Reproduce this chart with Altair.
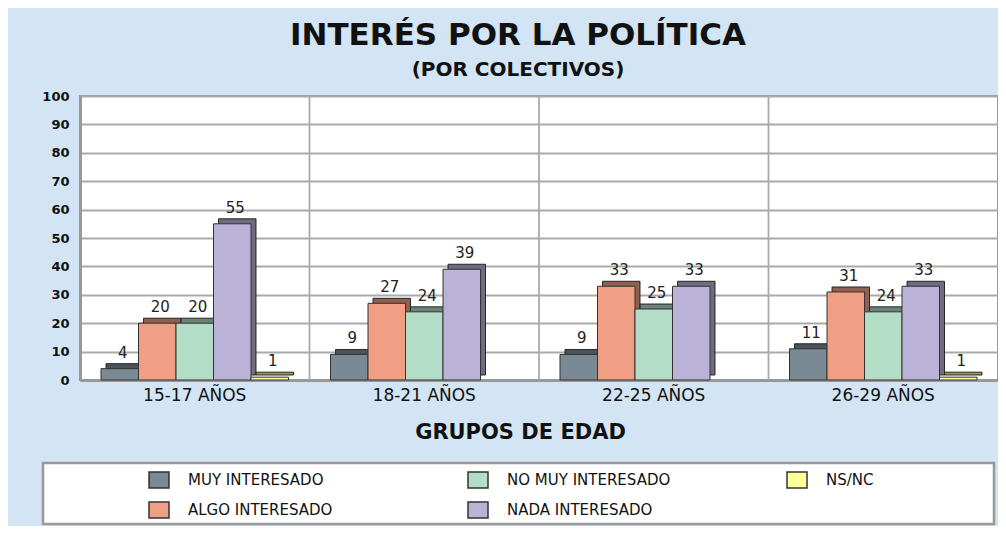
import altair as alt
import pandas as pd

groups = ["15-17 AÑOS", "18-21 AÑOS", "22-25 AÑOS", "26-29 AÑOS"]
series_order = ["MUY INTERESADO", "ALGO INTERESADO", "NO MUY INTERESADO",
                "NADA INTERESADO", "NS/NC"]
legend_order = ["MUY INTERESADO", "NO MUY INTERESADO", "NS/NC",
                "ALGO INTERESADO", "NADA INTERESADO"]
colors = {"MUY INTERESADO": "#7a8a94", "ALGO INTERESADO": "#f09e84",
          "NO MUY INTERESADO": "#b3ddc7", "NADA INTERESADO": "#bbb2d7",
          "NS/NC": "#ffff99"}

muy = [4, 9, 9, 11]
algo = [20, 27, 33, 31]
no_muy = [20, 24, 25, 24]
nada = [55, 39, 33, 33]
ns_nc = [1, None, None, 1]

rows = []
for name, vals in zip(series_order, [muy, algo, no_muy, nada, ns_nc]):
    for g, v in zip(groups, vals):
        if v is not None:
            rows.append({"group": g, "series": name, "value": v})
df = pd.DataFrame(rows)

FONT = "DejaVu Sans"
W, H = 918, 284
BW = W / len(groups)
D = 5  # depth of the 3D effect

xs = alt.X("group:N", sort=groups,
           scale=alt.Scale(domain=groups, paddingInner=0, paddingOuter=0),
           axis=alt.Axis(title="GRUPOS DE EDAD", labelAngle=0, labelAlign="center",
                         ticks=False, labelFont=FONT, labelFontSize=17,
                         labelColor="#111", labelPadding=15,
                         domainColor="#999", domainWidth=3,
                         titleFont=FONT, titleFontSize=21, titleFontWeight="bold",
                         titleColor="#111", titleX=440, titleY=58,
                         titleBaseline="alphabetic"))


def xo(shift):
    return alt.XOffset("series:N", sort=series_order,
                       scale=alt.Scale(type="band", domain=series_order,
                                       paddingInner=0, paddingOuter=0.56,
                                       range=[shift, BW + shift]))


ys = alt.Y("value:Q", scale=alt.Scale(domain=[0, 100], nice=False),
           axis=alt.Axis(title=None, values=list(range(0, 101, 10)), ticks=False,
                         labelFont=FONT, labelFontSize=13, labelFontWeight="bold",
                         labelColor="#111", labelPadding=11,
                         domainColor="#999", domainWidth=3,
                         grid=True, gridColor="#aaaaaa", gridWidth=1.8))
color_scale = alt.Scale(domain=legend_order, range=[colors[s] for s in legend_order])
legend = alt.Legend(title=None, orient="none", legendX=68, legendY=373,
                    columns=3, direction="horizontal", gridAlign="all",
                    columnPadding=113, rowPadding=8, labelLimit=400,
                    symbolType="M-1,-0.8H1V0.8H-1Z", symbolSize=400,
                    symbolStrokeColor="#333", symbolStrokeWidth=1.5,
                    symbolOpacity=1,
                    labelFont=FONT, labelFontSize=15, labelColor="#111",
                    labelOffset=18, zindex=2)
col = alt.Color("series:N", scale=color_scale, legend=legend)

base = alt.Chart(df)

seps = alt.Chart(pd.DataFrame({"group": groups[1:]})).mark_rule(
    color="#aaaaaa", strokeWidth=1.8).encode(
    x=alt.X("group:N", sort=groups, bandPosition=0), y=alt.value(0), y2=alt.value(H))

back = base.mark_bar(yOffset=-D, stroke="#333", strokeWidth=1).encode(
    x=xs, xOffset=xo(D), y=ys, color=col)
shade = base.mark_bar(yOffset=-D, fill="#000", opacity=0.4).encode(
    x=xs, xOffset=xo(D), y=ys)
front = base.mark_bar(stroke="#333", strokeWidth=1, opacity=1).encode(
    x=xs, xOffset=xo(0), y=ys, color=col)
labels = base.mark_text(font=FONT, fontSize=15, color="#222", dy=-11,
                        baseline="alphabetic").encode(
    x=xs, xOffset=xo(3), y=ys, text="value:Q")

box = alt.Chart(pd.DataFrame({"k": [0]})).mark_rect(
    fill="white", stroke="#999", strokeWidth=2.5).encode(
    x=alt.value(-37), x2=alt.value(W - 4), y=alt.value(367), y2=alt.value(428))

chart = alt.layer(seps, back, shade, front, labels, box).resolve_scale(
    xOffset="independent"
).properties(
    width=W, height=H,
    title=alt.TitleParams(text="INTERÉS POR LA POLÍTICA",
                          subtitle="(POR COLECTIVOS)",
                          anchor="middle", dx=-21, offset=9,
                          font=FONT, fontSize=31, fontWeight="bold", color="#111",
                          subtitleFont=FONT, subtitleFontSize=20,
                          subtitleFontWeight="bold",
                          subtitleColor="#111", subtitlePadding=8),
    autosize=alt.AutoSizeParams(type="none"),
    padding={"left": 72, "top": 88, "right": 0, "bottom": 146},
    background="#d3e5f4",
).configure_view(stroke="#999", strokeWidth=2, fill="white")

chart.save("out.html", embed_options={"renderer": "svg", "actions": False})
